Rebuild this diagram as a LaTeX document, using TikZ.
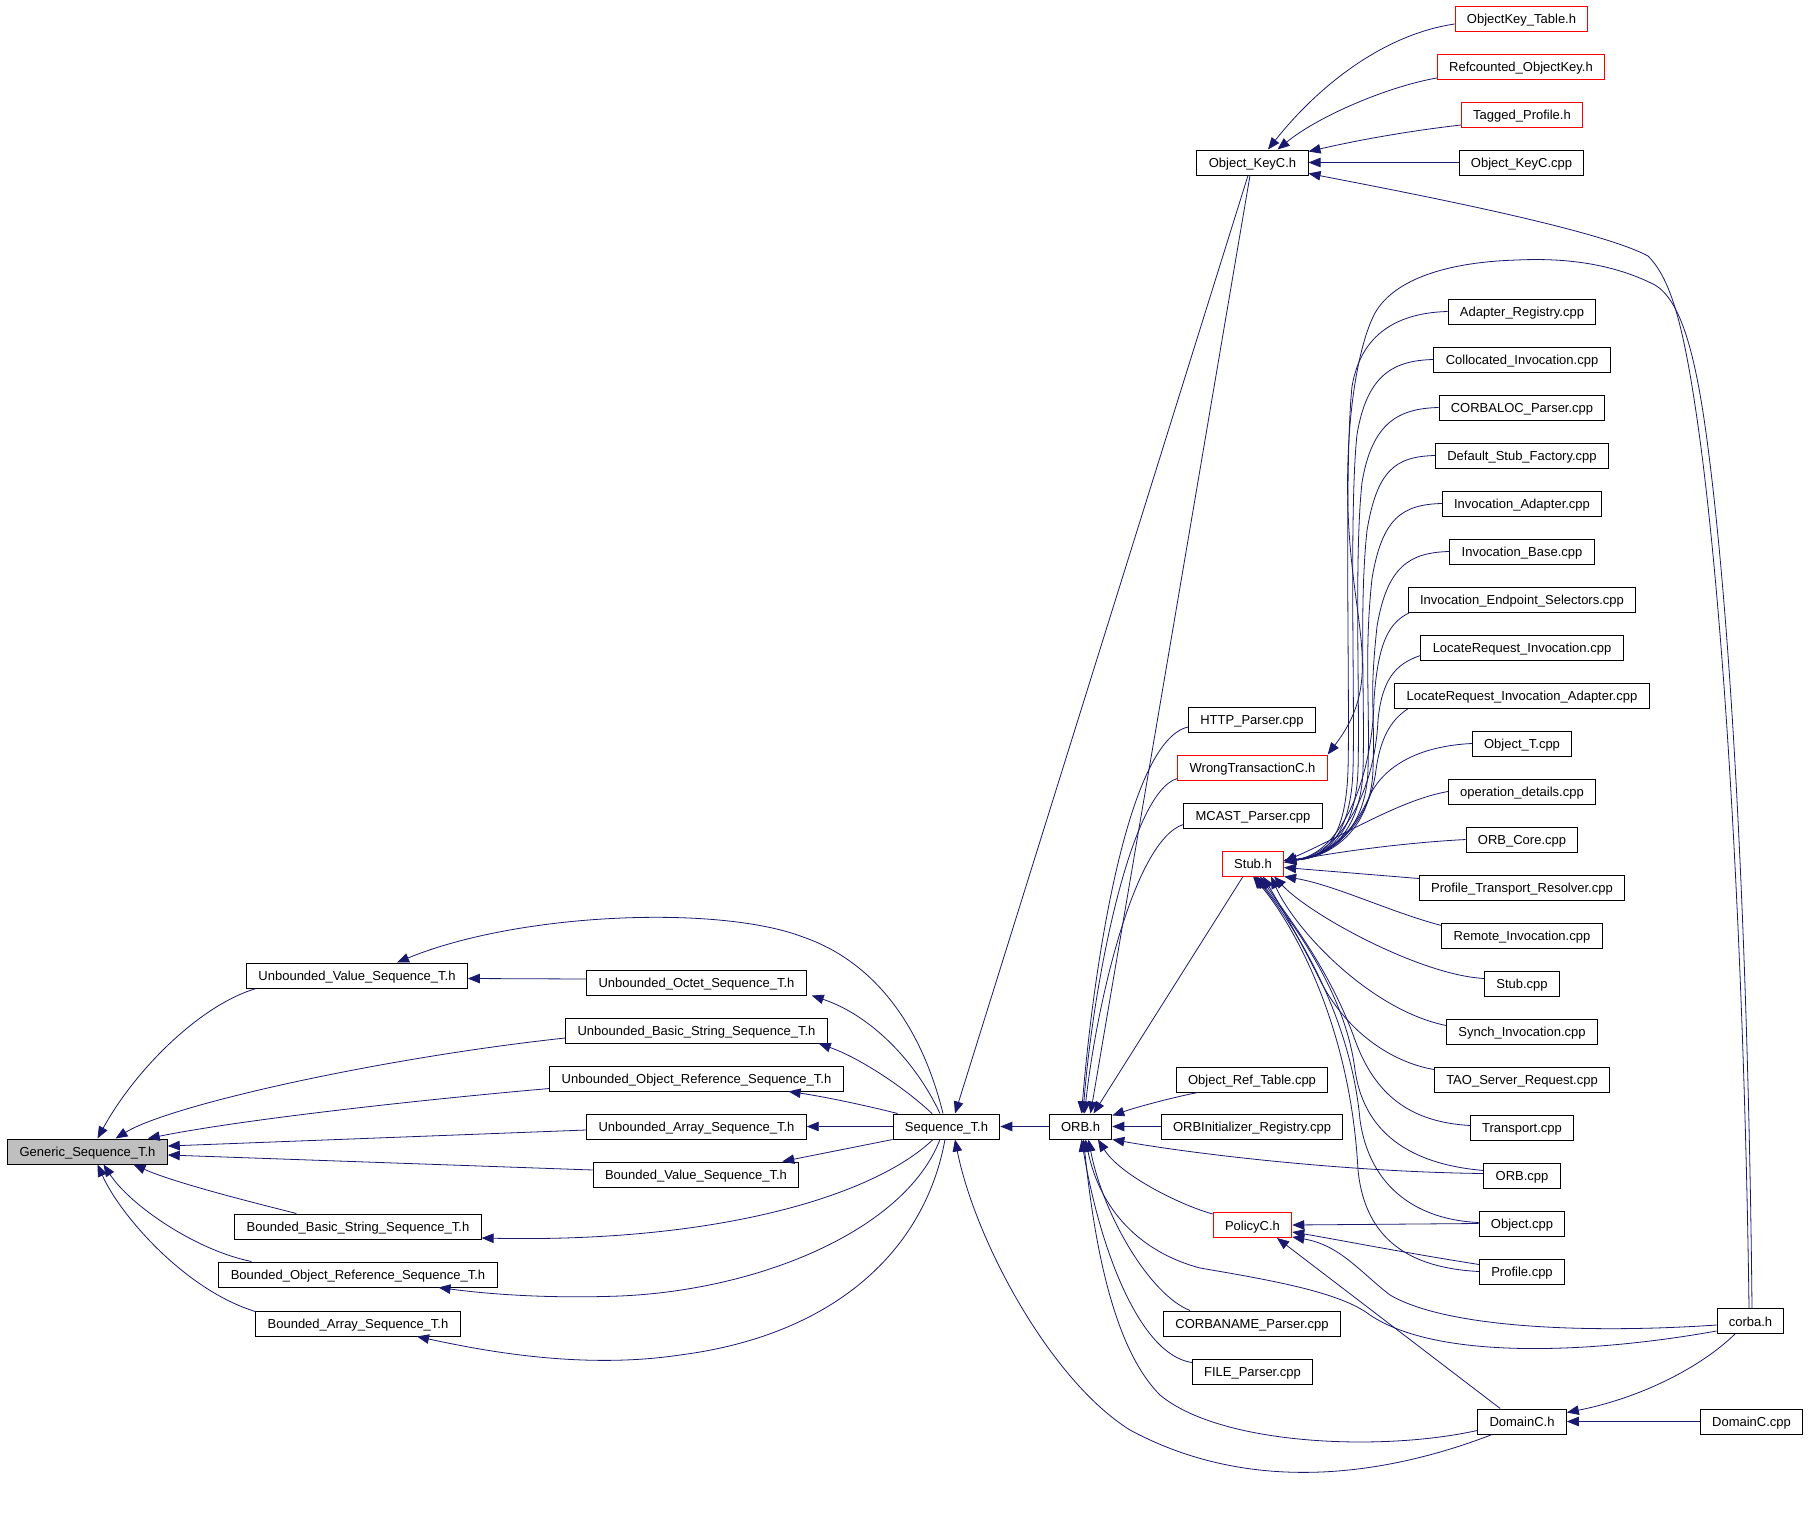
\documentclass[tikz,border=0pt]{standalone}
\usepackage{fontspec}
\setmainfont{Liberation Sans}
\usetikzlibrary{arrows.meta,calc}
\definecolor{edgeblue}{HTML}{191970}
\definecolor{boxred}{HTML}{FF0000}
\definecolor{genfill}{HTML}{BFBFBF}
\begin{document}
\begin{tikzpicture}[x=1pt,y=-1pt,
 nbox/.style={draw=black,line width=1pt,fill=white,minimum height=25pt,inner xsep=11.8pt,inner ysep=0pt,text height=10pt,text depth=0pt,font=\fontsize{13}{15}\selectfont},
 rbox/.style={nbox,draw=boxred},
 gbox/.style={nbox,fill=genfill},
 dep/.style={draw=edgeblue,line width=0.8pt,-{Triangle[length=12pt,width=9.5pt]}}]
\useasboundingbox[fill=white] (0,0) rectangle (1808,1515);
% left part
\node[gbox] (gen) at (87.5,1151.5) {Generic\_Sequence\_T.h};
\node[nbox] (uvs) at (357,975.5) {Unbounded\_Value\_Sequence\_T.h};
\node[nbox] (uoct) at (696.5,982.5) {Unbounded\_Octet\_Sequence\_T.h};
\node[nbox] (ubs) at (696.5,1030.5) {Unbounded\_Basic\_String\_Sequence\_T.h};
\node[nbox] (uor) at (696.5,1078.5) {Unbounded\_Object\_Reference\_Sequence\_T.h};
\node[nbox] (ua) at (696.5,1126.5) {Unbounded\_Array\_Sequence\_T.h};
\node[nbox] (bv) at (696,1174.5) {Bounded\_Value\_Sequence\_T.h};
\node[nbox] (bbs) at (358,1226.5) {Bounded\_Basic\_String\_Sequence\_T.h};
\node[nbox] (bor) at (358,1274.5) {Bounded\_Object\_Reference\_Sequence\_T.h};
\node[nbox] (ba) at (358,1323.5) {Bounded\_Array\_Sequence\_T.h};
\node[nbox] (seq) at (946.5,1126.5) {Sequence\_T.h};
\node[nbox] (orb) at (1080.5,1126.5) {ORB.h};
% top
\node[nbox] (okc) at (1252.5,162.5) {Object\_KeyC.h};
\node[rbox] (okt) at (1521.5,18.5) {ObjectKey\_Table.h};
\node[rbox] (rok) at (1521,66.5) {Refcounted\_ObjectKey.h};
\node[rbox] (tp) at (1522,114.5) {Tagged\_Profile.h};
\node[nbox] (okcpp) at (1521.5,162.5) {Object\_KeyC.cpp};
% middle column
\node[nbox] (http) at (1252,719.5) {HTTP\_Parser.cpp};
\node[rbox] (wtc) at (1252.5,767.5) {WrongTransactionC.h};
\node[nbox] (mcast) at (1253,815.5) {MCAST\_Parser.cpp};
\node[rbox] (stubh) at (1253,863.5) {Stub.h};
\node[nbox] (ort) at (1252,1079.5) {Object\_Ref\_Table.cpp};
\node[nbox] (oir) at (1252,1126.5) {ORBInitializer\_Registry.cpp};
\node[rbox] (pol) at (1252.5,1225) {PolicyC.h};
\node[nbox] (cn) at (1252,1323.5) {CORBANAME\_Parser.cpp};
\node[nbox] (file) at (1252.5,1371.5) {FILE\_Parser.cpp};
% right column
\node[nbox] (ar) at (1522,311.5) {Adapter\_Registry.cpp};
\node[nbox] (ci) at (1522,359.5) {Collocated\_Invocation.cpp};
\node[nbox] (cl) at (1522,407.5) {CORBALOC\_Parser.cpp};
\node[nbox] (dsf) at (1522,455.5) {Default\_Stub\_Factory.cpp};
\node[nbox] (ia) at (1522,503.5) {Invocation\_Adapter.cpp};
\node[nbox] (ib) at (1522,551.5) {Invocation\_Base.cpp};
\node[nbox] (ies) at (1522,599.5) {Invocation\_Endpoint\_Selectors.cpp};
\node[nbox] (lri) at (1522,647.5) {LocateRequest\_Invocation.cpp};
\node[nbox] (lria) at (1522,695.5) {LocateRequest\_Invocation\_Adapter.cpp};
\node[nbox] (ot) at (1522,743.5) {Object\_T.cpp};
\node[nbox] (od) at (1522,791.5) {operation\_details.cpp};
\node[nbox] (orbc) at (1522,839.5) {ORB\_Core.cpp};
\node[nbox] (ptr) at (1522,887.5) {Profile\_Transport\_Resolver.cpp};
\node[nbox] (ri) at (1522,935.5) {Remote\_Invocation.cpp};
\node[nbox] (stubcpp) at (1522,983.5) {Stub.cpp};
\node[nbox] (si) at (1522,1031.5) {Synch\_Invocation.cpp};
\node[nbox] (tsr) at (1522,1079.5) {TAO\_Server\_Request.cpp};
\node[nbox] (tr) at (1522,1127.5) {Transport.cpp};
\node[nbox] (orbcpp) at (1522,1175.5) {ORB.cpp};
\node[nbox] (objcpp) at (1522,1223.5) {Object.cpp};
\node[nbox] (profcpp) at (1522,1271.5) {Profile.cpp};
\node[nbox] (domh) at (1522,1421.5) {DomainC.h};
\node[nbox] (corba) at (1750.5,1321) {corba.h};
\node[nbox] (domcpp) at (1751.5,1421.5) {DomainC.cpp};

% edges into Generic_Sequence_T.h
\draw[dep] ($(uvs.south west)+(10,0)$) .. controls (200,1005) and (135,1070) .. ($(gen.north)+(10,0)$);
\draw[dep] ($(ubs.west)+(0,7.5)$) .. controls (380,1058) and (170,1105) .. ($(gen.north)+(28,0)$);
\draw[dep] ($(uor.west)+(0,10)$) .. controls (440,1098) and (250,1118) .. ($(gen.north east)+(-20,0)$);
\draw[dep] ($(ua.west)+(0,3.5)$) -- ($(gen.east)+(0,-5.5)$);
\draw[dep] ($(bv.west)+(0,-4.5)$) -- ($(gen.east)+(0,3.5)$);
\draw[dep] ($(bbs.north west)+(62,0)$) .. controls (255,1203) and (175,1183) .. ($(gen.south)+(46,0)$);
\draw[dep] ($(bor.north west)+(33,0)$) .. controls (195,1250) and (130,1205) .. ($(gen.south)+(16,0)$);
\draw[dep] ($(ba.north west)+(0,1)$) .. controls (185,1290) and (120,1215) .. ($(gen.south)+(10,0)$);
\draw[dep] ($(uoct.west)+(0,-3.5)$) -- ($(uvs.east)+(0,3)$);

% edges into the sequence headers from Sequence_T.h
\draw[dep] ($(seq.north)+(-3.5,0)$) .. controls (920,1020) and (870,960) .. (803,937) .. controls (720,905) and (520,912) .. ($(uvs.north)+(40,0)$);
\draw[dep] ($(seq.north)+(-6.5,0)$) .. controls (915,1060) and (870,1015) .. ($(uoct.south east)+(5,0)$);
\draw[dep] ($(seq.north)+(-14.5,0)$) .. controls (905,1088) and (860,1058) .. ($(ubs.south east)+(-9,0)$);
\draw[dep] ($(seq.north west)+(5,0)$) .. controls (860,1104) and (820,1096) .. ($(uor.south east)+(-55,0)$);
\draw[dep] (seq.west) -- (ua.east);
\draw[dep] (seq.south west) -- ($(bv.north east)+(-17,0)$);
\draw[dep] ($(seq.south)+(-13.5,0)$) .. controls (875,1195) and (720,1243) .. ($(bbs.east)+(0,11.5)$);
\draw[dep] ($(seq.south)+(-6.5,0)$) .. controls (905,1230) and (760,1290) .. (620,1296) .. controls (540,1299) and (480,1293) .. ($(bor.south east)+(-59,0)$);
\draw[dep] ($(seq.south)+(-1.5,0)$) .. controls (925,1250) and (835,1335) .. (680,1355) .. controls (580,1370) and (480,1350) .. ($(ba.south)+(59,0)$);
\draw[dep] (orb.west) -- (seq.east);

% Object_KeyC.h
\draw[dep] ($(okc.south)+(-4.5,0)$) -- ($(seq.north)+(8.5,0)$);
\draw[dep] ($(okc.south)+(-2.5,0)$) -- ($(orb.north)+(10,0)$);
\draw[dep] ($(okt.west)+(0,5.5)$) .. controls (1380,35) and (1315,90) .. ($(okc.north)+(15.5,0)$);
\draw[dep] ($(rok.west)+(0,11.5)$) .. controls (1390,86) and (1320,115) .. ($(okc.north)+(25,0)$);
\draw[dep] ($(tp.west)+(0,10.5)$) .. controls (1400,132) and (1350,142) .. ($(okc.north east)+(0,2)$);
\draw[dep] (okcpp.west) -- (okc.east);
\draw[dep] ($(corba.north)+(-1.5,0)$) .. controls (1745,1000) and (1728,650) .. (1700,440) .. controls (1685,330) and (1672,280) .. (1648,256) .. controls (1600,230) and (1420,195) .. ($(okc.east)+(0,11)$);
\draw[dep] ($(corba.north)+(1.5,0)$) .. controls (1749,1000) and (1735,650) .. (1707,440) .. controls (1695,350) and (1680,300) .. (1655,285) .. controls (1610,262) and (1560,258) .. (1517,260) .. controls (1450,262) and (1395,278) .. (1375,313) .. controls (1358,345) and (1345,420) .. (1348,510) .. controls (1352,630) and (1385,680) .. (wtc.north east);

% into ORB.h
\draw[dep] ($(http.west)+(0,7.5)$) .. controls (1130,740) and (1095,950) .. ($(orb.north)+(1,0)$);
\draw[dep] ($(wtc.south west)+(0,-2)$) .. controls (1130,792) and (1093,985) .. ($(orb.north)+(2.5,0)$);
\draw[dep] ($(mcast.west)+(0,9)$) .. controls (1135,840) and (1097,1000) .. ($(orb.north)+(4,0)$);
\draw[dep] ($(stubh.south)+(-10,0)$) -- ($(orb.north)+(13,0)$);
\draw[dep] ($(ort.south west)+(22,0)$) .. controls (1175,1097) and (1140,1106) .. ($(orb.north east)+(0,2)$);
\draw[dep] (oir.west) -- (orb.east);
\draw[dep] ($(orbcpp.west)+(0,-2)$) .. controls (1350,1172) and (1200,1155) .. (orb.south east);
\draw[dep] ($(pol.north west)+(0,2)$) .. controls (1180,1205) and (1120,1175) .. ($(orb.south)+(17.5,0)$);
\draw[dep] ($(cn.north west)+(27,0)$) .. controls (1150,1295) and (1103,1215) .. ($(orb.south)+(8,0)$);
\draw[dep] ($(file.west)+(0,-9)$) .. controls (1140,1355) and (1100,1250) .. ($(orb.south)+(1,0)$);
\draw[dep] ($(domh.west)+(0,9)$) .. controls (1380,1452) and (1220,1445) .. (1160,1395) .. controls (1110,1345) and (1093,1230) .. ($(orb.south)+(3,0)$);
\draw[dep] ($(corba.west)+(0,10)$) .. controls (1600,1352) and (1440,1362) .. (1370,1315) .. controls (1340,1292) and (1270,1280) .. (1200,1268) .. controls (1140,1252) and (1100,1210) .. ($(orb.south)+(5,0)$);
\draw[dep] ($(domh.south west)+(15,0)$) .. controls (1400,1470) and (1260,1500) .. (1130,1430) .. controls (1050,1380) and (975,1240) .. ($(seq.south)+(8.5,0)$);

% into Stub.h
\foreach \nm/\yc/\d in {ar/311.5/0,ci/359.5/5,cl/407.5/10,dsf/455.5/15,ia/503.5/20,ib/551.5/25}
  \draw[dep] (\nm.west) .. controls ($(\nm.west)+(-40,1)$) and ({1362+\d},{\yc+15}) .. ({1352+\d},{\yc+75}) .. controls ({1344+\d},{\yc+150}) and ({1350+\d},700) .. ({1348+\d},770) .. controls ({1346+\d},830) and (1330,858) .. ($(stubh.east)+(0,-3)$);
\draw[dep] ($(ies.south west)+(2,0)$) .. controls (1390,622) and (1378,640) .. (1374,700) .. controls (1372,790) and (1335,856) .. ($(stubh.east)+(0,-3)$);
\draw[dep] ($(lri.west)+(0,8)$) .. controls (1395,664) and (1382,680) .. (1378,720) .. controls (1374,800) and (1335,856) .. ($(stubh.east)+(0,-3)$);
\draw[dep] ($(lria.south west)+(14,0)$) .. controls (1390,720) and (1380,740) .. (1376,770) .. controls (1370,820) and (1335,856) .. ($(stubh.east)+(0,-3)$);
\draw[dep] (ot.west) .. controls (1420,746) and (1385,765) .. (1370,795) .. controls (1355,830) and (1330,856) .. ($(stubh.east)+(0,-3)$);
\draw[dep] (od.west) .. controls (1400,800) and (1345,835) .. ($(stubh.east)+(0,-2)$);
\draw[dep] (orbc.west) .. controls (1400,843) and (1330,853) .. ($(stubh.east)+(0,-1)$);
\draw[dep] ($(ptr.west)+(0,-9)$) -- ($(stubh.east)+(0,4)$);
\draw[dep] ($(ri.west)+(0,-10)$) .. controls (1390,912) and (1335,885) .. (stubh.south east);
\draw[dep] ($(stubcpp.west)+(0,-5)$) .. controls (1420,975) and (1310,915) .. ($(stubh.south east)+(-10,0)$);
\draw[dep] ($(si.west)+(0,-6)$) .. controls (1370,1010) and (1295,930) .. ($(stubh.south east)+(-13,0)$);
\draw[dep] ($(tsr.west)+(0,-10)$) .. controls (1390,1062) and (1345,1030) .. (1320,980) .. controls (1300,940) and (1280,905) .. ($(stubh.south)+(10,0)$);
\draw[dep] ($(tr.west)+(0,-2)$) .. controls (1410,1122) and (1375,1095) .. (1355,1040) .. controls (1330,970) and (1290,920) .. ($(stubh.south)+(7,0)$);
\draw[dep] ($(orbcpp.west)+(0,-5)$) .. controls (1420,1165) and (1365,1140) .. (1355,1070) .. controls (1345,990) and (1290,920) .. ($(stubh.south)+(4,0)$);
\draw[dep] ($(objcpp.west)+(0,-1)$) .. controls (1420,1220) and (1370,1190) .. (1360,1120) .. controls (1350,1010) and (1290,920) .. ($(stubh.south)+(2,0)$);
\draw[dep] (profcpp.west) .. controls (1410,1268) and (1365,1240) .. (1358,1170) .. controls (1350,1020) and (1290,920) .. (stubh.south);

% into PolicyC.h
\draw[dep] (objcpp.west) -- (pol.east);
\draw[dep] ($(profcpp.west)+(0,-7)$) .. controls (1400,1252) and (1340,1240) .. ($(pol.east)+(0,7)$);
\draw[dep] ($(corba.west)+(0,4)$) .. controls (1600,1333) and (1450,1330) .. (1390,1295) .. controls (1360,1272) and (1340,1245) .. ($(pol.south east)+(0,-1)$);
\draw[dep] ($(domh.north west)+(23,0)$) -- ($(pol.south)+(24.5,0)$);

% into DomainC.h
\draw[dep] ($(corba.south)+(-15.5,0)$) .. controls (1700,1368) and (1640,1398) .. ($(domh.east)+(0,-9)$);
\draw[dep] (domcpp.west) -- (domh.east);
\end{tikzpicture}
\end{document}
